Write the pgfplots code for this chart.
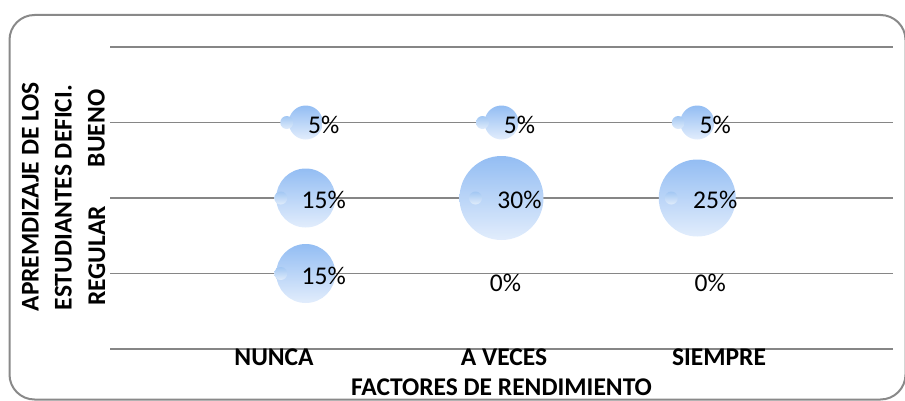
\documentclass[border=0pt]{standalone}
\usepackage{fontspec}
\setmainfont{Carlito}
\usepackage{pgfplots}
\pgfplotsset{compat=1.18}

\definecolor{gridc}{RGB}{134,134,134}
\definecolor{framec}{RGB}{137,137,137}
\definecolor{bubtop}{RGB}{147,189,243}
\definecolor{bubbot}{RGB}{226,237,252}
\definecolor{hltop}{RGB}{162,199,243}
\definecolor{hlbot}{RGB}{224,236,251}

\pgfdeclareverticalshading{bubshade}{100bp}{color(0bp)=(bubbot); color(25bp)=(bubbot); color(75bp)=(bubtop); color(100bp)=(bubtop)}
\pgfdeclareverticalshading{hlshade}{100bp}{color(0bp)=(hlbot); color(25bp)=(hlbot); color(75bp)=(hltop); color(100bp)=(hltop)}

\pgfdeclareplotmark{bubble}{%
  \pgfpathcircle{\pgfpointorigin}{\rad pt}%
  \pgfshadepath{bubshade}{0}%
  \pgfusepath{discard}%
  \pgfpathcircle{\pgfpoint{\bubdx pt}{0pt}}{6.5pt}%
  \pgfshadepath{hlshade}{0}%
  \pgfusepath{discard}%
}

\newcommand{\bigfont}{\fontsize{25.5}{30}\selectfont}

\begin{document}
\begin{tikzpicture}
\useasboundingbox (0pt,0pt) rectangle (905pt,-401pt);
\draw[line width=2pt, color=framec, rounded corners=25pt] (9.5pt,-15pt) rectangle (905.5pt,-399.5pt);
\begin{axis}[
  at={(110pt,-349pt)}, anchor=south west, scale only axis,
  width=783pt, height=302pt,
  xmin=0, xmax=4, ymin=0, ymax=4,
  clip=false,
  /pgf/number format/assume math mode=true,
  axis line style={draw=none},
  tick style={draw=none},
  ytick={0,1,2,3,4}, yticklabels={},
  ymajorgrids,
  grid style={color=gridc, line width=1.3pt},
  xtick={0.838,2.013,3.111},
  xticklabels={NUNCA, A VECES, SIEMPRE},
  xticklabel style={font=\bfseries\bigfont, anchor=base, yshift=-16pt},
  xlabel={FACTORES DE RENDIMIENTO},
  xlabel style={at={(axis description cs:0.5,0)}, anchor=base, yshift=-46pt, font=\bfseries\bigfont},
]
\addplot[scatter, only marks, mark=bubble,
  point meta=\thisrow{r},
  visualization depends on={\thisrow{r} \as \rad},
  visualization depends on={\thisrow{dx} \as \bubdx},
] table {
x y r dx
1 3 17 -19
1 2 29.5 -25
1 1 29.5 -25
2 3 17 -19
2 2 42 -26
3 3 17 -19
3 2 38.5 -26
};
\addplot[draw=none, mark=none,
  nodes near coords={\pgfmathprintnumber[assume math mode=true]{\pgfplotspointmeta}\%},
  point meta=\thisrow{v},
  visualization depends on={\thisrow{lx} \as \lx},
  visualization depends on={\thisrow{ly} \as \ly},
  every node near coord/.append style={anchor=base, xshift=\lx pt, yshift=\ly pt, font=\bigfont, text=black, inner sep=0pt},
] table {
x y v lx ly
1 3 5 18 -10.5
1 2 15 18 -10.5
1 1 15 18 -10.5
2 3 5 18 -10.5
2 2 30 18 -10.5
2 1 0 4 -17.5
3 3 5 18 -10.5
3 2 25 18 -10.5
3 1 0 13 -17.5
};
\end{axis}
\node[rotate=90, anchor=base, font=\bfseries\bigfont, inner sep=0pt] at (104.5pt,-128.3pt) {BUENO};
\node[rotate=90, anchor=base, font=\bfseries\bigfont, inner sep=0pt] at (105pt,-255.8pt) {REGULAR};
\node[rotate=90, anchor=base, font=\bfseries\bigfont, inner sep=0pt] at (38.5pt,-196.7pt) {APREMDIZAJE DE LOS};
\node[rotate=90, anchor=base, font=\bfseries\bigfont, inner sep=0pt] at (71.5pt,-197.5pt) {ESTUDIANTES DEFICI.};
\end{tikzpicture}
\end{document}
